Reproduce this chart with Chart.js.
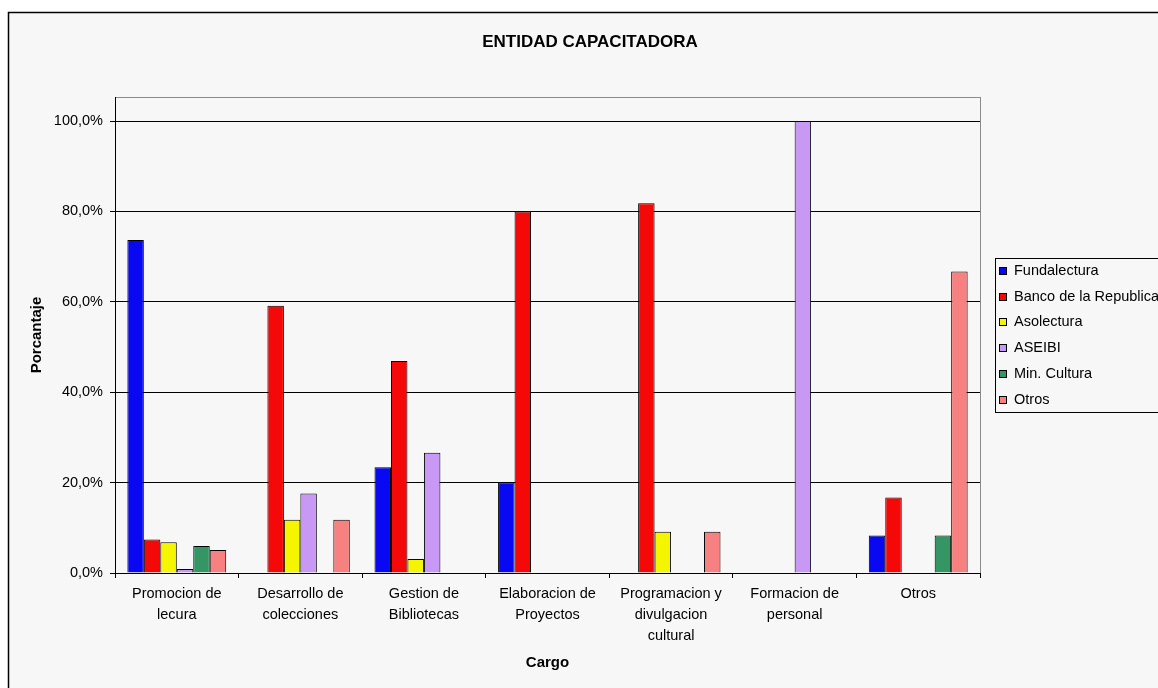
<!DOCTYPE html>
<html lang="es">
<head>
  <meta charset="UTF-8">
  <title>Entidad Capacitadora</title>
  <script src="https://cdn.jsdelivr.net/npm/chart.js"></script>
  <style>
    body { margin: 0; background: #ffffff; }
    canvas { display: block; }
  </style>
</head>
<body>
  <canvas id="chart" width="1158" height="688"></canvas>

  <script>
    // Data (percent)
    const categories = [
      ['Promocion de', 'lecura'],
      ['Desarrollo de', 'colecciones'],
      ['Gestion de', 'Bibliotecas'],
      ['Elaboracion de', 'Proyectos'],
      ['Programacion y', 'divulgacion', 'cultural'],
      ['Formacion de', 'personal'],
      ['Otros']
    ];
    const seriesNames = ['Fundalectura', 'Banco de la Republica', 'Asolectura', 'ASEIBI', 'Min. Cultura', 'Otros'];
    const fundalectura = [73.7, 0, 23.4, 20.0, 0, 0, 8.3];
    const bancoRepublica = [7.4, 59.1, 46.9, 80.0, 81.8, 0, 16.7];
    const asolectura = [6.8, 11.8, 3.1, 0, 9.1, 0, 0];
    const aseibi = [0.9, 17.6, 26.6, 0, 0, 100, 0];
    const minCultura = [6.0, 0, 0, 0, 0, 0, 8.3];
    const otros = [5.1, 11.8, 0, 0, 9.1, 0, 66.7];
    const seriesColors = ['#0808f2', '#f50808', '#f5f500', '#c898f5', '#359665', '#f78080'];
    const yTicks = [0, 20, 40, 60, 80, 100];

    const FONT = '"Liberation Sans", Arial, sans-serif';

    // Background, outer frame and plot border
    const framePlugin = {
      id: 'frame',
      beforeDraw(chart) {
        const ctx = chart.ctx;
        const a = chart.chartArea;
        ctx.save();
        ctx.fillStyle = '#ffffff';
        ctx.fillRect(0, 0, chart.width, chart.height);
        ctx.fillStyle = '#f7f7f7';
        ctx.fillRect(8, 12, chart.width, chart.height);
        ctx.strokeStyle = '#000000';
        ctx.lineWidth = 1.5;
        ctx.strokeRect(8.5, 12.5, chart.width + 10, chart.height + 10);
        ctx.strokeStyle = '#8a8a8a';
        ctx.lineWidth = 1;
        ctx.strokeRect(a.left + 0.5, a.top + 0.5, a.right - a.left, a.bottom - a.top);

        // chart title
        ctx.fillStyle = '#000000';
        ctx.font = 'bold 17px ' + FONT;
        ctx.textAlign = 'center';
        ctx.textBaseline = 'middle';
        ctx.fillText('ENTIDAD CAPACITADORA', 590, 42);
        ctx.restore();
      },
      afterDraw(chart) {
        // legend box on the right
        const ctx = chart.ctx;
        ctx.save();
        ctx.strokeStyle = '#000000';
        ctx.lineWidth = 1;
        ctx.strokeRect(995.5, 258.5, 200, 154);
        ctx.font = '14.5px ' + FONT;
        ctx.textAlign = 'left';
        ctx.textBaseline = 'middle';
        chart.data.datasets.forEach((ds, i) => {
          const y = 271 + i * 25.7;
          ctx.fillStyle = ds.backgroundColor;
          ctx.fillRect(999.5, Math.round(y) - 3.5, 7, 7);
          ctx.strokeStyle = '#000000';
          ctx.strokeRect(999.5, Math.round(y) - 3.5, 7, 7);
          ctx.fillStyle = '#000000';
          ctx.fillText(ds.label, 1014, y);
        });
        ctx.restore();
      }
    };

    const seriesData = [fundalectura, bancoRepublica, asolectura, aseibi, minCultura, otros];

    new Chart(document.getElementById('chart'), {
      type: 'bar',
      data: {
        labels: categories,
        datasets: seriesNames.map((name, i) => ({
          label: name,
          data: seriesData[i],
          backgroundColor: seriesColors[i],
          borderColor: '#000000',
          borderWidth: 1,
          categoryPercentage: 0.8,
          barPercentage: 1.0
        }))
      },
      options: {
        responsive: false,
        animation: false,
        devicePixelRatio: 1,
        layout: { padding: { left: 20, right: 178, top: 97, bottom: 0 } },
        plugins: {
          legend: { display: false },
          title: { display: false },
          tooltip: { enabled: false }
        },
        scales: {
          x: {
            afterFit(scale) { scale.height = 115; },
            grid: {
              display: true,
              drawOnChartArea: false,
              drawTicks: true,
              tickLength: 5,
              offset: true,
              color: '#000000'
            },
            border: { display: true, color: '#000000', width: 1 },
            ticks: {
              color: '#000000',
              padding: 5,
              maxRotation: 0,
              autoSkip: false,
              font: { family: FONT, size: 14.5, lineHeight: 1.45 }
            },
            title: {
              display: true,
              text: 'Cargo',
              color: '#000000',
              font: { family: FONT, size: 15, weight: 'bold', lineHeight: 1.2 },
              padding: { top: 0, bottom: 16 }
            }
          },
          y: {
            min: 0,
            max: 100 * 476 / 452,
            afterFit(scale) { scale.width = 95; },
            afterBuildTicks(scale) {
              scale.ticks = yTicks.map(v => ({ value: v }));
            },
            grid: {
              color: '#000000',
              lineWidth: 1,
              drawTicks: true,
              tickLength: 5
            },
            border: { display: true, color: '#000000', width: 1 },
            ticks: {
              color: '#000000',
              padding: 7,
              font: { family: FONT, size: 14.5 },
              callback: v => v.toFixed(1).replace('.', ',') + '%'
            },
            title: {
              display: true,
              text: 'Porcantaje',
              color: '#000000',
              font: { family: FONT, size: 15, weight: 'bold', lineHeight: 1.2 },
              padding: { top: 8, bottom: 0 }
            }
          }
        }
      },
      plugins: [framePlugin]
    });
  </script>
</body>
</html>
